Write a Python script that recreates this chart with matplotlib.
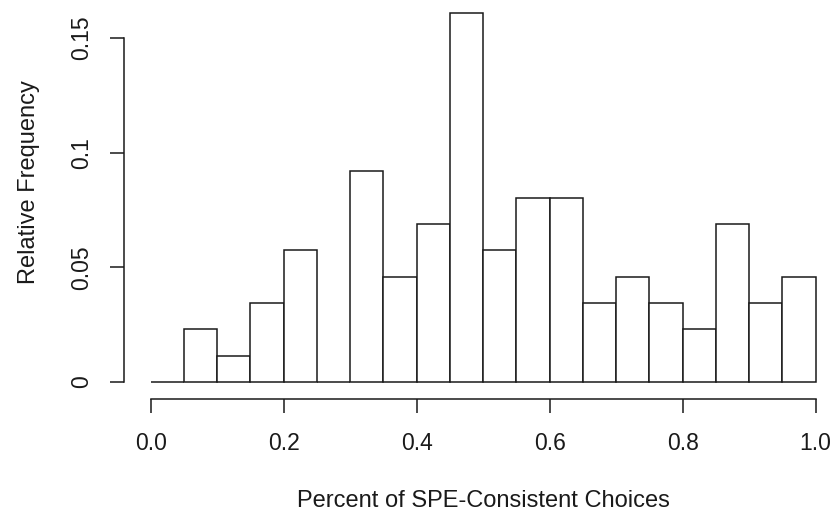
import matplotlib
matplotlib.use("Agg")
import matplotlib.pyplot as plt
import numpy as np

plt.rcParams['font.family'] = ['Liberation Sans', 'DejaVu Sans']

bin_edges = [round(0.05 * i, 2) for i in range(21)]
counts = [0, 2, 1, 3, 5, 0, 8, 4, 6, 14, 5, 7, 7, 3, 4, 3, 2, 6, 3, 4]
total = sum(counts)
rel_freq = [c / total for c in counts]

xticks = [0.0, 0.2, 0.4, 0.6, 0.8, 1.0]
xtick_labels = ["0.0", "0.2", "0.4", "0.6", "0.8", "1.0"]
yticks = [0, 0.05, 0.1, 0.15]
ytick_labels = ["0", "0.05", "0.1", "0.15"]

W, H = 835, 512
fig = plt.figure(figsize=(W / 100, H / 100), dpi=100)
px_per_x = 665.0
x0, x1 = -0.04, 1.02
left_px = 124
bottom_px = 399
ax = fig.add_axes([left_px / W, (H - bottom_px) / H, (x1 - x0) * px_per_x / W, bottom_px / H])

ax.bar(bin_edges[:-1], rel_freq, width=0.05, align='edge', color='white',
       edgecolor='#1a1a1a', linewidth=1.1)

ax.set_xlim(x0, x1)
ax.set_ylim(-0.0074, 0.1666)

for s in ['top', 'right']:
    ax.spines[s].set_visible(False)
ax.spines['left'].set_bounds(0, 0.15)
ax.spines['bottom'].set_bounds(0, 1.0)
for s in ['left', 'bottom']:
    ax.spines[s].set_linewidth(1.1)
    ax.spines[s].set_color('#1a1a1a')

ax.set_xticks(xticks)
ax.set_xticklabels(xtick_labels)
ax.set_yticks(yticks)
ax.set_yticklabels(ytick_labels, rotation=90, va='center')
ax.tick_params(axis='both', length=10, width=1.1, color='#1a1a1a', labelsize=16.5, labelcolor='#1a1a1a')
ax.tick_params(axis='x', pad=14)
ax.tick_params(axis='y', pad=12)

ax.set_xlabel("Percent of SPE-Consistent Choices", fontsize=17, color='#1a1a1a', labelpad=25)
ax.set_ylabel("Relative Frequency", fontsize=17, color='#1a1a1a', labelpad=22)
ax.xaxis.label.set_x((0.5 - x0) / (x1 - x0))
ax.yaxis.label.set_y((399 - 182.5) / 399)

fig.savefig("out.png", dpi=100)
